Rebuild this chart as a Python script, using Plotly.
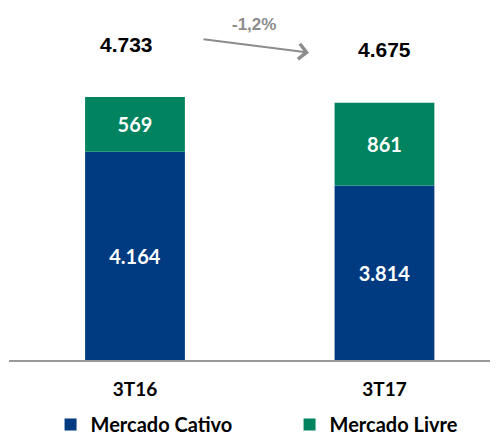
import plotly.graph_objects as go

categories = ["3T16", "3T17"]
cativo = [4164, 3814]
livre = [569, 861]
series_names = ["Mercado Cativo", "Mercado Livre"]

BLUE = "#003B82"
GREEN = "#00835E"
GRAY = "#8C8C8C"
LBL_FONT = "Lato"
NUM_FONT = "Liberation Sans"

def fmt(v):
    return f"{v:,}".replace(",", ".")

totals = [a + b for a, b in zip(cativo, livre)]
pct = (totals[1] / totals[0] - 1) * 100
pct_txt = f"{pct:.1f}%".replace(".", ",")

xs = list(range(len(categories)))

# page body has an 8px margin: figure is 490x427 placed at (8,8)
PLOT_H = 352
BASE = 2000

fig = go.Figure()
fig.add_bar(x=xs, y=[v - BASE for v in cativo], base=BASE, name=series_names[0],
            marker=dict(color=BLUE, line=dict(width=0)),
            text=[fmt(v) for v in cativo], textposition="inside",
            insidetextanchor="middle", textangle=0,
            textfont=dict(family=LBL_FONT, size=20, color="white", weight="bold"),
            width=0.4)
fig.add_bar(x=xs, y=livre, base=cativo, name=series_names[1],
            marker=dict(color=GREEN, line=dict(width=0)),
            text=[fmt(v) for v in livre], textposition="inside",
            insidetextanchor="middle", textangle=0,
            textfont=dict(family=LBL_FONT, size=20, color="white", weight="bold"),
            width=0.4)

for i, t in enumerate(totals):
    fig.add_annotation(x=xs[i], y=t, yshift=53, text=fmt(t), showarrow=False,
                       xshift=-8 if i == 0 else 0, xanchor="center", yanchor="middle",
                       font=dict(family=NUM_FONT, size=21, color="black", weight="bold"))

def px(xr):
    return (xr - 9) / 489

def py(yr):
    return (360 - yr) / PLOT_H

# arrow between totals
fig.add_annotation(xref="paper", yref="paper", x=px(309), y=py(52.7),
                   ax=-107, ay=-13.7, showarrow=True, arrowhead=4, arrowsize=1.5,
                   arrowwidth=2, arrowcolor=GRAY, text="")
fig.add_annotation(xref="paper", yref="paper", x=px(254.5), y=py(24.5),
                   xanchor="center", yanchor="middle",
                   text=pct_txt, showarrow=False,
                   font=dict(family=NUM_FONT, size=17, color=GRAY, weight="bold"))

fig.update_layout(
    width=490, height=427,
    margin=dict(l=1, r=0, t=0, b=75, autoexpand=False),
    paper_bgcolor="white", plot_bgcolor="white",
    barmode="overlay",
    showlegend=True,
    legend=dict(orientation="h", xanchor="left", x=0.085, yanchor="middle", y=py(424.5),
                font=dict(family=LBL_FONT, size=20, color="black", weight="bold"),
                entrywidth=194, traceorder="normal", bgcolor="rgba(0,0,0,0)"),
    xaxis=dict(range=[-0.505, 1.455], tickvals=xs, ticktext=categories,
               showline=True, linecolor="#999999", linewidth=1.5,
               showgrid=False, zeroline=False, ticks="outside", ticklen=11,
               tickcolor="rgba(0,0,0,0)",
               tickfont=dict(family=LBL_FONT, size=19, color="black", weight="bold")),
    yaxis=dict(range=[BASE, BASE + PLOT_H / 0.0962], visible=False, showgrid=False),
)

fig.write_html("out.html")
